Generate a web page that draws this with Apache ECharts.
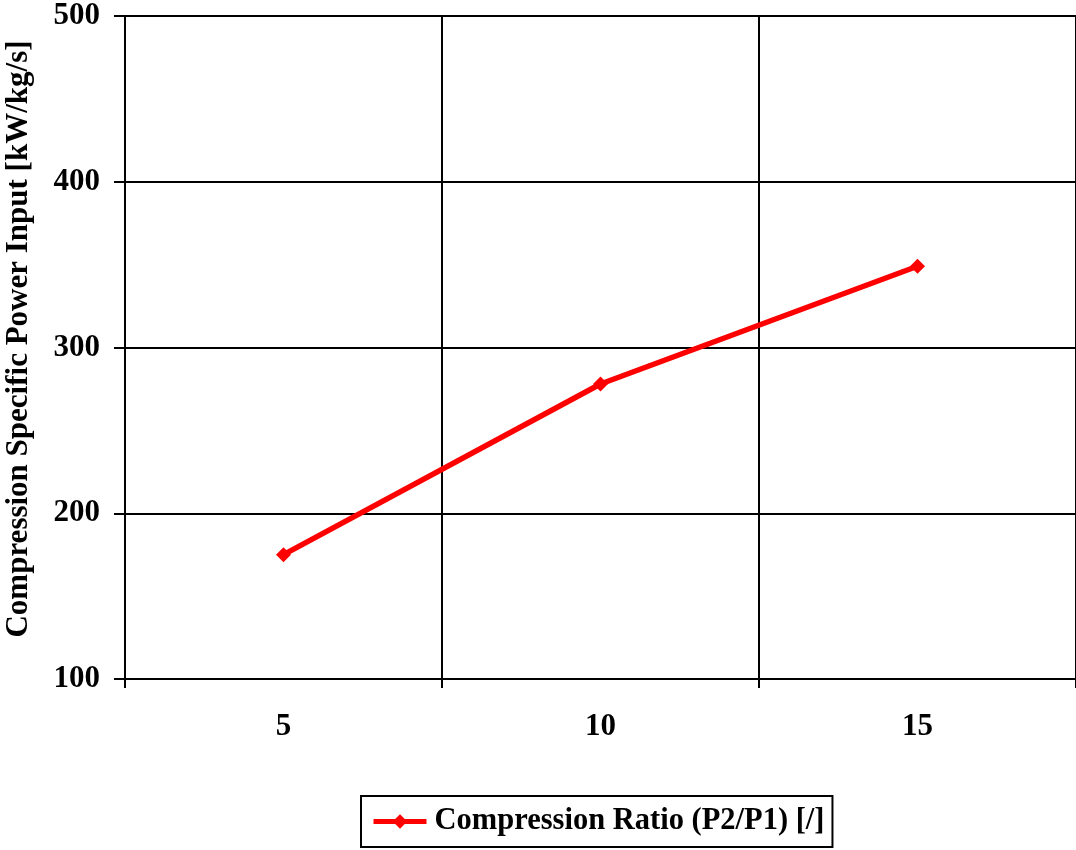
<!DOCTYPE html>
<html><head><meta charset="utf-8">
<script src="https://cdn.jsdelivr.net/npm/echarts@6/dist/echarts.min.js"></script>
<style>html,body{margin:0;padding:0;background:#fff}#c{width:1076px;height:850px}</style>
</head><body><div id="c"></div>
<script>
const categories = ['5', '10', '15'];
const seriesName = 'Compression Ratio (P2/P1) [/]';
const yAxisTitle = 'Compression Specific Power Input [kW/kg/s]';
const powerInput = [175, 278, 349];
const yTicks = [100, 200, 300, 400, 500];

const FONT = "'Liberation Serif','Times New Roman',serif";
const FS = 31;
const chart = echarts.init(document.getElementById('c'));
chart.setOption({
  animation: false,
  backgroundColor: '#fff',
  grid: { left: 125, right: 0, top: 16, bottom: 171, containLabel: false, outerBoundsMode: 'none' },
  legend: {
    data: [seriesName],
    left: 361, top: 796,
    padding: [10, 8, 10, 10],
    borderColor: '#000', borderWidth: 2,
    itemWidth: 53, itemHeight: 18, itemGap: 0,
    lineStyle: { width: 5, color: '#ff0000' },
    textStyle: { fontFamily: FONT, fontWeight: 'bold', fontSize: 30.5, color: '#000', padding: [0, 0, 0, 3] }
  },
  graphic: [{
    type: 'text', x: 19, y: 339, rotation: Math.PI / 2,
    style: { text: yAxisTitle, fontFamily: FONT, fontWeight: 'bold', fontSize: FS, fill: '#000',
             textAlign: 'center', textVerticalAlign: 'middle' }
  }],
  xAxis: {
    type: 'category', data: categories, boundaryGap: true,
    axisLine: { lineStyle: { color: '#000', width: 2 } },
    axisTick: { show: true, length: 9, lineStyle: { color: '#000', width: 2 } },
    axisLabel: { margin: 32, fontFamily: FONT, fontWeight: 'bold', fontSize: FS, color: '#000' },
    splitLine: { show: true, lineStyle: { color: '#000', width: 2 } }
  },
  yAxis: {
    type: 'value', min: yTicks[0], max: yTicks[yTicks.length - 1], interval: 100,
    axisLine: { show: true, lineStyle: { color: '#000', width: 2 } },
    axisTick: { show: true, length: 11, lineStyle: { color: '#000', width: 2 } },
    axisLabel: { margin: 25, fontFamily: FONT, fontWeight: 'bold', fontSize: FS, color: '#000' },
    splitLine: { show: true, lineStyle: { color: '#000', width: 2 } }
  },
  series: [{
    name: seriesName, type: 'line', data: powerInput,
    symbol: 'diamond', symbolSize: 15,
    lineStyle: { color: '#ff0000', width: 5.5 },
    itemStyle: { color: '#ff0000' }
  }]
});
</script></body></html>
